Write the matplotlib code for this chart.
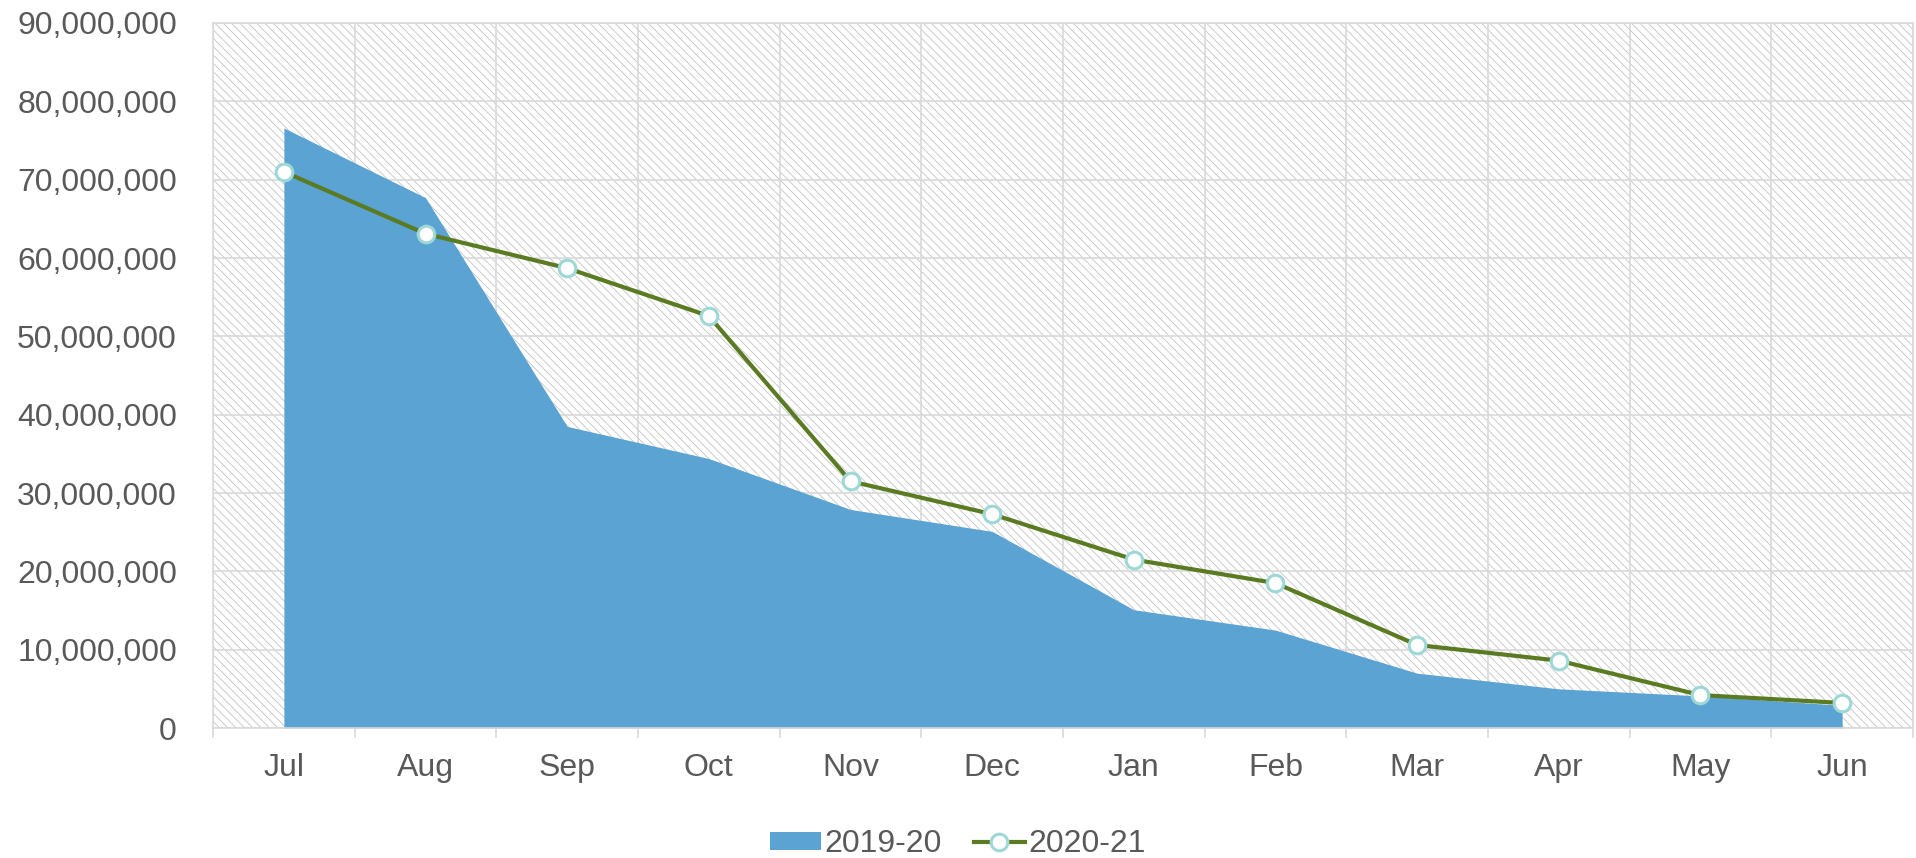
import matplotlib
matplotlib.use("Agg")
import matplotlib.pyplot as plt
from matplotlib.patches import Rectangle, Patch
from matplotlib.lines import Line2D
from matplotlib.ticker import FuncFormatter, MultipleLocator
import numpy as np

months = ["Jul", "Aug", "Sep", "Oct", "Nov", "Dec", "Jan", "Feb", "Mar", "Apr", "May", "Jun"]
values_2019_20 = [76.6e6, 67.7e6, 38.5e6, 34.4e6, 27.9e6, 25.1e6, 15.1e6, 12.5e6, 7.0e6, 5.0e6, 4.1e6, 2.9e6]
values_2020_21 = [71.0e6, 63.1e6, 58.7e6, 52.6e6, 31.5e6, 27.3e6, 21.5e6, 18.5e6, 10.6e6, 8.6e6, 4.2e6, 3.2e6]
series_names = ["2019-20", "2020-21"]

plt.rcParams['font.family'] = ['Liberation Sans', 'DejaVu Sans']
plt.rcParams['hatch.linewidth'] = 0.6
text_color = "#595959"
grid_color = "#d9d9d9"
area_color = "#5BA3D3"
line_color = "#5A7B22"
marker_edge = "#9DD8D6"
fs = 23

fig = plt.figure(figsize=(19.16, 8.58), dpi=100)
ax = fig.add_axes([0.1112, 0.1515, 0.8872, 0.8217])

x = np.arange(len(months))

# hatched background
bg = Rectangle((0, 0), 1, 1, transform=ax.transAxes, facecolor="white",
               edgecolor="#c4c4c4", hatch="\\\\\\\\", linewidth=0, zorder=0.1)
ax.add_patch(bg)

ax.fill_between(x, 0, values_2019_20, color=area_color, linewidth=0, zorder=2)
ax.plot(x, values_2020_21, color=line_color, linewidth=3, marker='o', markersize=12,
        markerfacecolor='white', markeredgecolor=marker_edge, markeredgewidth=2.2, zorder=3)

ax.set_xlim(-0.5, len(months) - 0.5)
ax.set_ylim(0, 90e6)
ax.yaxis.set_major_locator(MultipleLocator(10e6))
ax.yaxis.set_major_formatter(FuncFormatter(lambda v, p: f"{int(round(v)):,}"))

ax.set_xticks(x)
ax.set_xticklabels(months)
ax.set_xticks(np.arange(-0.5, len(months), 1.0), minor=True)

ax.set_axisbelow(True)
ax.grid(axis='y', which='major', color=grid_color, linewidth=1.2, zorder=0.5)
ax.grid(axis='x', which='minor', color=grid_color, linewidth=1.2, zorder=0.5)
ax.grid(axis='x', which='major', visible=False)

ax.tick_params(axis='x', which='major', length=0, pad=18, labelsize=fs, labelcolor=text_color)
ax.tick_params(axis='x', which='minor', length=7, width=1.2, color=grid_color, direction='out')
ax.tick_params(axis='y', which='major', length=0, pad=26, labelsize=fs, labelcolor=text_color)

for s in ax.spines.values():
    s.set_color(grid_color)
    s.set_linewidth(1.2)

handles = [Patch(facecolor=area_color, edgecolor='none'),
           Line2D([0], [0], color=line_color, linewidth=3, marker='o', markersize=12,
                  markerfacecolor='white', markeredgecolor=marker_edge, markeredgewidth=2.2)]
fig.legend(handles, series_names, loc='center', bbox_to_anchor=(0.5, 0.016), ncol=2,
           frameon=False, fontsize=fs, labelcolor=text_color, handlelength=1.6,
           handleheight=0.5, handletextpad=0.1, columnspacing=1.0)

fig.savefig("out.png", dpi=100)
